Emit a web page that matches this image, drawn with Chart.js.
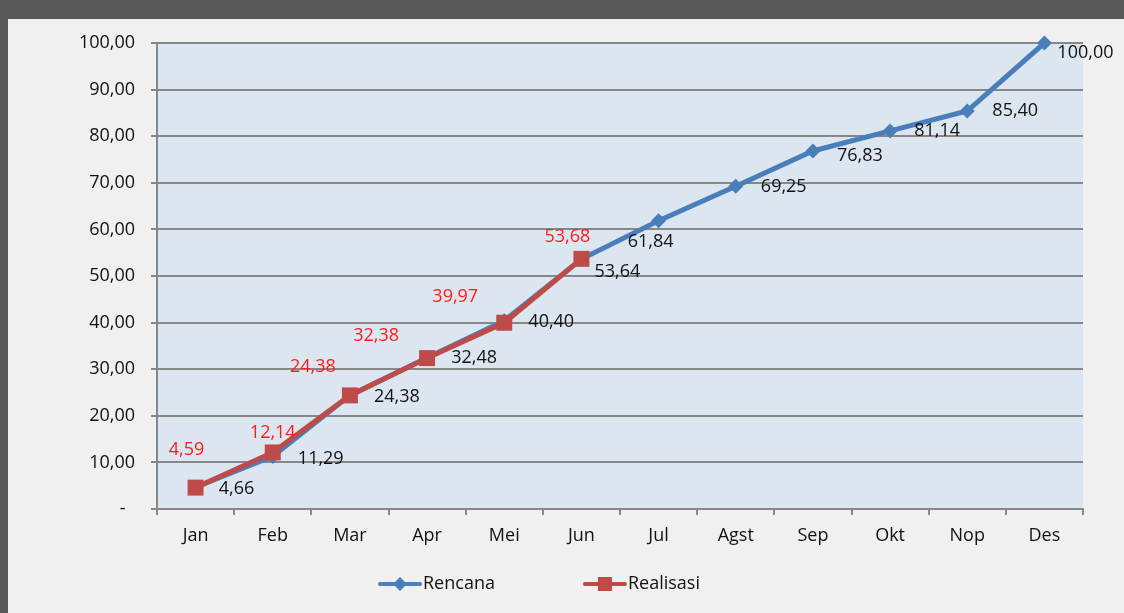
<!DOCTYPE html>
<html>
<head>
<meta charset="utf-8">
<script src="https://cdn.jsdelivr.net/npm/chart.js@4/dist/chart.umd.min.js"></script>
<style>
    html, body { margin: 0; padding: 0; width: 1124px; height: 613px; background: #595959; overflow: hidden; }
    #panel { position: absolute; left: 8px; top: 19px; width: 1116px; height: 594px; background: #f0f0f0; }
</style>
</head>
<body>
<div id="panel"><canvas id="chart-kurva" width="1116" height="594"></canvas></div>
<script>
const bulan = ["Jan", "Feb", "Mar", "Apr", "Mei", "Jun", "Jul", "Agst", "Sep", "Okt", "Nop", "Des"];
const rencana = [4.66, 11.29, 24.38, 32.48, 40.40, 53.64, 61.84, 69.25, 76.83, 81.14, 85.40, 100.00];
const realisasi = [4.59, 12.14, 24.38, 32.38, 39.97, 53.68];
const y_ticks = [0, 10, 20, 30, 40, 50, 60, 70, 80, 90, 100];

const warna_rencana = "#4a7ebb";
const warna_realisasi = "#be4b48";
const warna_garis = "#878787";
const warna_teks = "#111111";
const huruf = "'Open Sans', 'Noto Sans', sans-serif";
const ukuran_huruf = 18;

// geser label tiap titik (dx, dy dari titik ke tengah teks)
const geser_rencana = [[41, 2], [48, 2], [47, 1], [47, 0], [47, 1], [36, 13], [-8, 21], [48, 1], [47, 5], [47, 0], [48, 0], [41, 10]];
const geser_realisasi = [[-9, -38], [0, -20], [-37, -29], [-51, -22], [-49, -26], [-14, -22]];

function format_angka(v){
    return v.toFixed(2).replace('.', ',');
}

const latar_plot = {
    id: 'latar_plot',
    beforeDraw(chart){
        const a = chart.chartArea;
        const ctx = chart.ctx;
        ctx.save();
        ctx.fillStyle = "#dce6f1";
        ctx.fillRect(a.left, a.top, a.right - a.left, a.bottom - a.top);
        ctx.restore();
    }
};

const label_titik = {
    id: 'label_titik',
    afterDatasetsDraw(chart){
        const ctx = chart.ctx;
        ctx.save();
        ctx.font = ukuran_huruf + "px " + huruf;
        ctx.textAlign = 'center';
        ctx.textBaseline = 'middle';
        chart.data.datasets.forEach((ds, i) => {
            const meta = chart.getDatasetMeta(i);
            const geser = i == 0 ? geser_rencana : geser_realisasi;
            ctx.fillStyle = i == 0 ? warna_teks : "#ff1a1a";
            meta.data.forEach((pt, j) => {
                ctx.fillText(format_angka(ds.data[j]), pt.x + geser[j][0], pt.y + geser[j][1]);
            });
        });
        ctx.restore();
    }
};

// legenda sendiri: garis + penanda + teks, seperti di Excel
const legenda = {
    id: 'legenda',
    afterDraw(chart){
        const ctx = chart.ctx;
        const y = chart.height - 29;
        let x = 370;
        ctx.save();
        ctx.font = ukuran_huruf + "px " + huruf;
        ctx.textBaseline = 'middle';
        chart.data.datasets.forEach((ds, i) => {
            ctx.strokeStyle = ds.borderColor;
            ctx.fillStyle = ds.borderColor;
            ctx.lineWidth = 4;
            ctx.lineCap = 'round';
            ctx.beginPath();
            ctx.moveTo(x + 2, y);
            ctx.lineTo(x + 42, y);
            ctx.stroke();
            ctx.beginPath();
            if (i == 0){
                ctx.moveTo(x + 22, y - 7); ctx.lineTo(x + 29, y); ctx.lineTo(x + 22, y + 7); ctx.lineTo(x + 15, y);
            } else {
                ctx.rect(x + 15, y - 7, 14, 14);
            }
            ctx.fill();
            ctx.fillStyle = warna_teks;
            ctx.fillText(ds.label, x + 45, y);
            x += 45 + ctx.measureText(ds.label).width + 88;
        });
        ctx.restore();
    }
};

const ctx_kurva = document.getElementById('chart-kurva');

const chart_kurva = new Chart(ctx_kurva, {
    type: 'line',
    data: {
        labels: bulan,
        datasets: [{
            label: "Rencana",
            data: rencana,
            borderColor: warna_rencana,
            backgroundColor: warna_rencana,
            borderWidth: 5,
            pointStyle: 'rectRot',
            pointRadius: 7.5,
            pointBorderWidth: 0,
            tension: 0,
            clip: false,
            order: 2,
        }, {
            label: "Realisasi",
            data: realisasi,
            borderColor: warna_realisasi,
            backgroundColor: warna_realisasi,
            borderWidth: 5,
            pointStyle: 'rect',
            pointRadius: 11.3,
            pointBorderWidth: 0,
            tension: 0,
            clip: false,
            order: 1,
        }],
    },
    options: {
        responsive: false,
        animation: false,
        layout: { padding: { left: 0, right: 41, top: 24, bottom: 44 } },
        plugins: {
            tooltip: { enabled: false },
            legend: { display: false }
        },
        scales: {
            x: {
                offset: true,
                grid: { drawOnChartArea: false, drawTicks: true, tickLength: 6, color: warna_garis, lineWidth: 2, offset: true },
                border: { display: true, color: warna_garis, width: 2 },
                ticks: { color: warna_teks, font: { family: huruf, size: ukuran_huruf }, padding: 10, maxRotation: 0 },
                afterFit(scale){ scale.height = 60; }
            },
            y: {
                min: 0,
                max: 100,
                afterBuildTicks(scale){ scale.ticks = y_ticks.map(v => ({ value: v })); },
                grid: { color: warna_garis, lineWidth: 2, tickLength: 6 },
                border: { display: true, color: warna_garis, width: 2 },
                ticks: {
                    color: warna_teks,
                    font: { family: huruf, size: ukuran_huruf },
                    padding: 16,
                    callback: (v) => v == 0 ? '-  ' : format_angka(v)
                },
                afterFit(scale){
                    scale.width = 149;
                    scale.paddingTop = 0;
                    scale.paddingBottom = 0;
                }
            }
        }
    },
    plugins: [latar_plot, label_titik, legenda]
});
</script>
</body>
</html>
